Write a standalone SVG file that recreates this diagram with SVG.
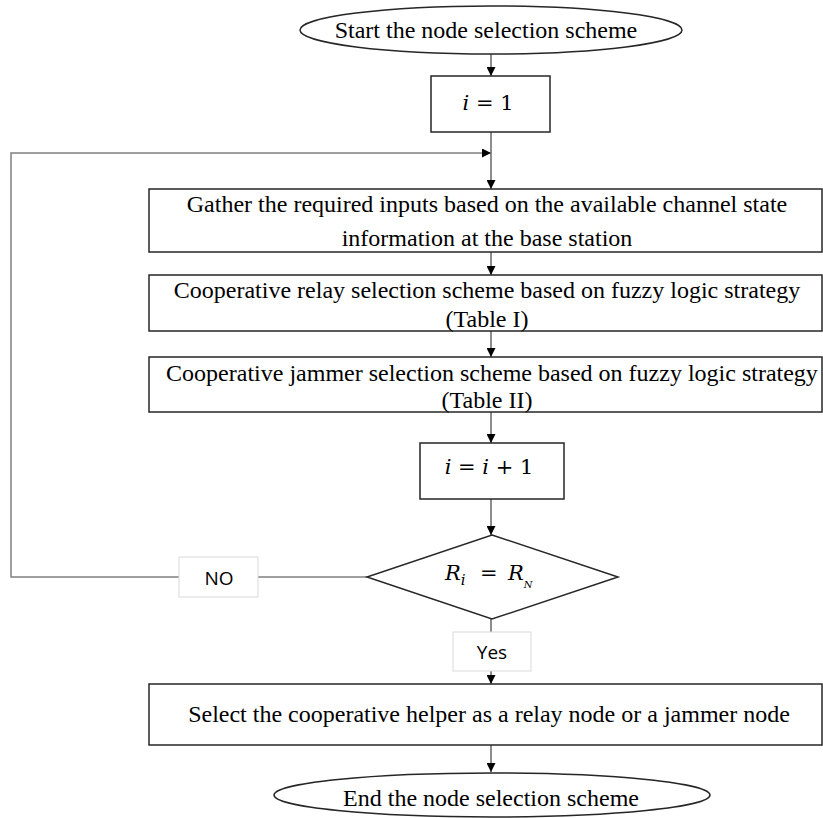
<svg xmlns="http://www.w3.org/2000/svg" width="823" height="818" viewBox="0 0 823 818">
<defs>
<marker id="ah" viewBox="0 0 10 10" refX="10" refY="5" markerWidth="9" markerHeight="9" markerUnits="userSpaceOnUse" orient="auto">
<path d="M0,0 L10,5 L0,10 Z" fill="#000"/>
</marker>
<style>
.box{fill:#fff;stroke:#262626;stroke-width:1.5}
.lbl{fill:#fff;stroke:#d9d9d9;stroke-width:1}
.t{font-family:"Liberation Serif","Times New Roman",serif;font-size:24px;fill:#000;text-anchor:middle}
.m{font-family:"DejaVu Serif","Liberation Serif",serif;font-size:21px;fill:#000;text-anchor:middle}
.ms{font-family:"DejaVu Serif","Liberation Serif",serif;font-size:21px;fill:#000;text-anchor:start}
.v{font-style:italic}
.s{font-family:"Open Sans","Liberation Sans",sans-serif;font-size:19px;fill:#000;text-anchor:middle}
.c{fill:none;stroke:#404040;stroke-width:1.2}
.g{fill:none;stroke:#808080;stroke-width:1.5}
</style>
</defs>
<rect width="823" height="818" fill="#fff"/>
<g id="connectors">
<line class="c" x1="491" y1="54" x2="491" y2="76" marker-end="url(#ah)"/>
<line class="c" x1="491" y1="132" x2="491" y2="189" marker-end="url(#ah)"/>
<polyline class="g" points="367,577 11,577 11,153 491,153" marker-end="url(#ah)"/>
<line class="c" x1="491" y1="252" x2="491" y2="275" marker-end="url(#ah)"/>
<line class="c" x1="491" y1="331" x2="491" y2="357" marker-end="url(#ah)"/>
<line class="c" x1="491" y1="412" x2="491" y2="443" marker-end="url(#ah)"/>
<line class="c" x1="491" y1="499" x2="491" y2="535" marker-end="url(#ah)"/>
<line class="c" x1="491" y1="619" x2="491" y2="632"/>
<line class="c" x1="491" y1="671" x2="491" y2="684" marker-end="url(#ah)"/>
<line class="c" x1="491" y1="745" x2="491" y2="772" marker-end="url(#ah)"/>
</g>
<g id="start">
<ellipse class="box" cx="491" cy="30" rx="191" ry="24"/>
<text class="t" x="486" y="38">Start the node selection scheme</text>
</g>
<g id="init">
<rect class="box" x="431" y="76" width="119" height="56"/>
<text class="m" x="488" y="110"><tspan class="v">i</tspan> = 1</text>
</g>
<g id="gather">
<rect class="box" x="149" y="189" width="673" height="63"/>
<text class="t" x="487" y="212">Gather the required inputs based on the available channel state</text>
<text class="t" x="487" y="246">information at the base station</text>
</g>
<g id="relay">
<rect class="box" x="149" y="275" width="673" height="56"/>
<text class="t" x="487" y="298">Cooperative relay selection scheme based on fuzzy logic strategy</text>
<text class="t" x="487" y="327">(Table I)</text>
</g>
<g id="jammer">
<rect class="box" x="149" y="357" width="673" height="55"/>
<text class="t" x="492" y="381">Cooperative jammer selection scheme based on fuzzy logic strategy</text>
<text class="t" x="487" y="408">(Table II)</text>
</g>
<g id="increment">
<rect class="box" x="420" y="443" width="144" height="56"/>
<text class="m" x="489" y="474"><tspan class="v">i</tspan> = <tspan class="v">i</tspan> + 1</text>
</g>
<g id="decision">
<polygon class="box" points="492,535 618,577 492,619 367,577"/>
<text class="ms v" x="445" y="580">R<tspan font-size="15" dy="5">i</tspan></text>
<text class="ms" x="480" y="580">=</text>
<text class="ms v" x="508" y="580">R<tspan font-size="10" dy="8">N</tspan></text>
</g>
<g id="no">
<rect class="lbl" x="179" y="557" width="79" height="40"/>
<text class="s" x="219" y="585">NO</text>
</g>
<g id="yes">
<rect class="lbl" x="453" y="632" width="78" height="39"/>
<text class="s" x="492" y="659">Yes</text>
</g>
<g id="select">
<rect class="box" x="149" y="684" width="673" height="61"/>
<text class="t" x="489" y="722">Select the cooperative helper as a relay node or a jammer node</text>
</g>
<g id="end">
<ellipse class="box" cx="492" cy="795" rx="218" ry="22"/>
<text class="t" x="491" y="806">End the node selection scheme</text>
</g>
</svg>
